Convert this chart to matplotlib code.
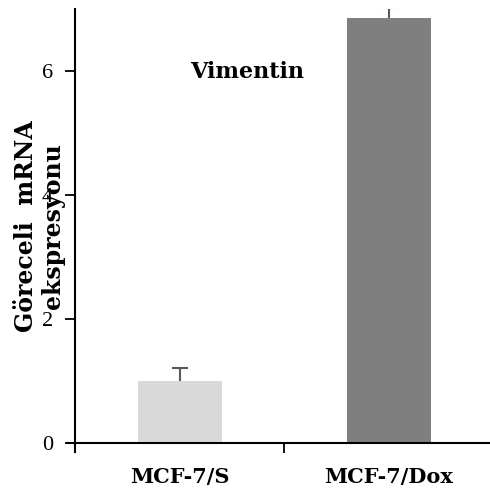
import matplotlib
matplotlib.use("Agg")
import matplotlib.pyplot as plt

# data
groups = ["MCF-7/S", "MCF-7/Dox"]
values = [1.0, 6.85]
err_up = [0.21, 0.17]
bar_colors = ["#d9d9d9", "#7f7f7f"]
yticks = [0, 2, 4, 6]

SERIF = ["Liberation Serif", "DejaVu Serif"]

fig = plt.figure(figsize=(4.9, 4.95), dpi=100)
ax = fig.add_axes([0.154, 0.087, 0.853, 0.895])

x = list(range(len(groups)))
ax.bar(x, values, width=0.4, color=bar_colors, zorder=2)
# plus-only error bars (stem + top cap)
tops = [v + e for v, e in zip(values, err_up)]
ax.vlines(x, values, tops, color="#595959", lw=1.5, zorder=3)
ax.plot(x, tops, ls="none", marker="_", ms=12, mew=1.5, color="#595959", zorder=3)

ax.set_xlim(-0.5, 1.5)
ax.set_ylim(-0.15, 7)
ax.spines["top"].set_visible(False)
ax.spines["right"].set_visible(False)
ax.spines["bottom"].set_position(("data", 0))
ax.spines["bottom"].set_bounds(-0.54, 1.5)
for s in ("left", "bottom"):
    ax.spines[s].set_linewidth(1.5)

ax.set_yticks(yticks)
ax.set_yticklabels([str(t) for t in yticks], family=SERIF, fontsize=16)
ax.tick_params(axis="y", direction="out", length=7, width=1.3, pad=9)
ax.set_xticks([0.5])
ax.set_xticklabels([""])
ax.tick_params(axis="x", direction="out", length=7, width=1.3)

for i, g in enumerate(groups):
    ax.text(i, -0.55, g, ha="center", va="center", fontsize=15,
            fontweight="bold", family=["DejaVu Serif"])

ax.text(0.32, 5.98, "Vimentin", ha="center", va="center", fontsize=16,
        fontweight="bold", family=["DejaVu Serif"])

fig.text(39.5 / 490, 1 - 226 / 495, "Göreceli  mRNA\nekspresyonu", rotation=90,
         ha="center", va="center", multialignment="center", fontsize=17,
         fontweight="bold", family=["DejaVu Serif"], linespacing=1.15)

fig.savefig("out.png", dpi=100)
